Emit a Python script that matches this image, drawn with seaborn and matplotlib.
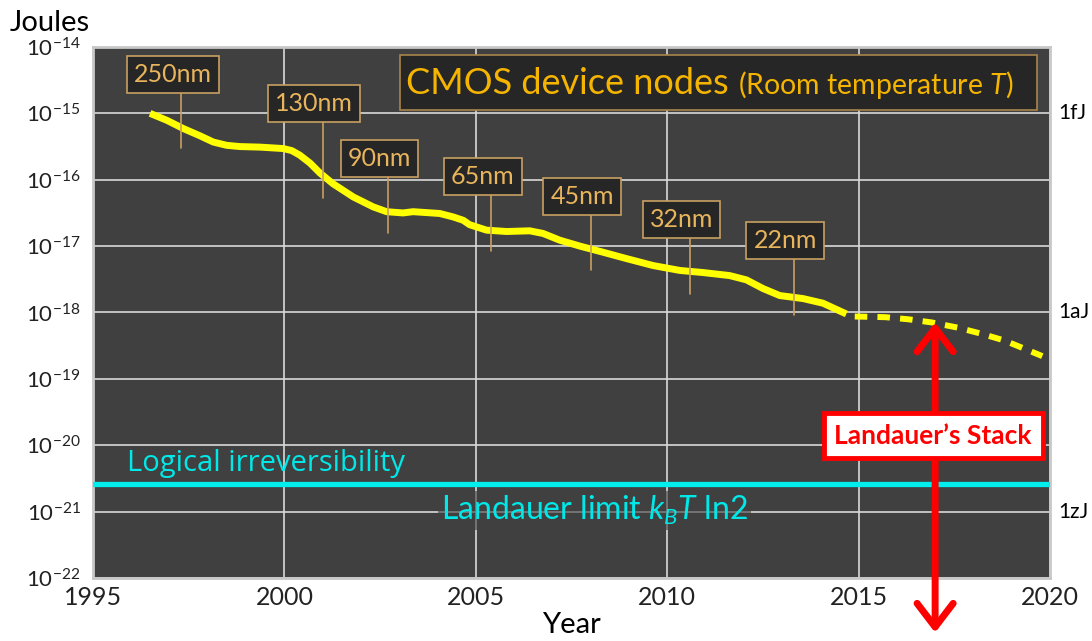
import numpy as np
import matplotlib
matplotlib.use('Agg')
import matplotlib.pyplot as plt
import seaborn as sns
from matplotlib.patches import Rectangle

# switching energy of CMOS nodes
cmos_years = [1996.49, 1996.92, 1997.36, 1997.79, 1998.14, 1998.49, 1998.84, 1999.36, 1999.97,
              2000.19, 2000.40, 2000.67, 2000.93, 2001.27, 2001.80, 2002.32, 2002.67, 2003.10,
              2003.36, 2003.71, 2004.06, 2004.41, 2004.67, 2004.84, 2005.28, 2005.80, 2006.41,
              2006.76, 2007.19, 2007.72, 2008.32, 2008.93, 2009.63, 2010.33, 2010.93, 2011.63,
              2012.07, 2012.50, 2012.94, 2013.55, 2014.07, 2014.68]
cmos_joules = [1.0e-15, 7.9e-16, 5.9e-16, 4.6e-16, 3.7e-16, 3.3e-16, 3.16e-16, 3.1e-16, 2.95e-16,
               2.75e-16, 2.35e-16, 1.78e-16, 1.26e-16, 8.7e-17, 5.5e-17, 3.9e-17, 3.3e-17, 3.16e-17,
               3.3e-17, 3.2e-17, 3.1e-17, 2.75e-17, 2.45e-17, 2.1e-17, 1.74e-17, 1.66e-17, 1.7e-17,
               1.55e-17, 1.23e-17, 1.0e-17, 8.1e-18, 6.5e-18, 5.1e-18, 4.3e-18, 4.0e-18, 3.6e-18,
               3.1e-18, 2.3e-18, 1.8e-18, 1.62e-18, 1.38e-18, 9.5e-19]

# projection beyond 2015 (dashed)
proj_years = [2014.9, 2015.7, 2016.3, 2016.9, 2017.6, 2018.2, 2018.8, 2019.3, 2019.8]
proj_joules = [8.7e-19, 8.5e-19, 7.9e-19, 7.1e-19, 5.9e-19, 4.8e-19, 3.8e-19, 2.9e-19, 2.2e-19]

node_names = ['250nm', '130nm', '90nm', '65nm', '45nm', '32nm', '22nm']
node_years = [1997.3, 2001.0, 2002.7, 2005.4, 2008.0, 2010.6, 2013.3]
node_joules = [6.2e-16, 1.1e-16, 3.3e-17, 1.75e-17, 9.0e-18, 4.0e-18, 1.9e-18]

landauer_limit = 2.6e-21
stack_year = 2017.0
stack_top = 7.1e-19

year_ticks = [1995, 2000, 2005, 2010, 2015, 2020]
joule_ticks = [1e-14, 1e-15, 1e-16, 1e-17, 1e-18, 1e-19, 1e-20, 1e-21, 1e-22]
si_ticks = [1e-15, 1e-18, 1e-21]
si_labels = ['1fJ', '1aJ', '1zJ']

sns.set_style('darkgrid', {'axes.facecolor': '#404040', 'grid.color': '#d9d9d9',
                           'axes.edgecolor': '#c8c8c8'})
plt.rcParams['font.family'] = ['Lato', 'DejaVu Sans']
plt.rcParams['mathtext.fontset'] = 'custom'
plt.rcParams['mathtext.rm'] = 'Lato'
plt.rcParams['mathtext.it'] = 'Lato:italic'
plt.rcParams['mathtext.bf'] = 'Lato:bold'

fig, ax = plt.subplots(figsize=(10.92, 6.41), dpi=100)
fig.subplots_adjust(left=0.0852, right=0.9615, top=0.9267, bottom=0.0983)

# yellow trend, solid then dashed projection
sns.lineplot(x=cmos_years, y=cmos_joules, ax=ax, color='#ffff00', lw=5,
             solid_capstyle='butt', solid_joinstyle='round', zorder=3)
sns.lineplot(x=proj_years, y=proj_joules, ax=ax, color='#ffff00', lw=4.3,
             linestyle=(0, (2.1, 1.7)), dash_capstyle='butt', zorder=3)

ax.set_yscale('log')
ax.set_xlim(1995, 2020)
ax.set_ylim(1e-22, 1e-14)
ax.set_xticks(year_ticks)
ax.set_xticklabels([str(y) for y in year_ticks])
ax.set_yticks(joule_ticks)
ax.set_yticklabels([r'$10^{%d}$' % round(np.log10(v)) for v in joule_ticks])
ax.yaxis.set_minor_locator(matplotlib.ticker.NullLocator())
ax.tick_params(axis='y', labelsize=16, pad=9, length=0, labelcolor='#222222')
ax.tick_params(axis='x', labelsize=18, pad=6, length=0, labelcolor='#222222')
ax.grid(True, color='#d9d9d9', lw=1.2)
for sp in ax.spines.values():
    sp.set_visible(True)
    sp.set_color('#c8c8c8')
    sp.set_linewidth(2)

ax.set_xlabel('Year', fontsize=21, labelpad=2, color='black')
ax.set_ylabel('')
fig.text(0.009, 0.964, 'Joules', fontsize=21, va='center', ha='left', color='black')

# SI labels on the right
for v, lab in zip(si_ticks, si_labels):
    ax.text(1.009, v, lab, transform=ax.get_yaxis_transform(), va='center', ha='left',
            fontsize=15, color='black')

# node labels with leader lines
extra_lift = {'130nm': 0.3}
for name, yr, e in zip(node_names, node_years, node_joules):
    lift = 0.8 + extra_lift.get(name, 0)
    ybox = e * 10 ** lift
    ax.plot([yr, yr], [e * 10 ** -0.32, ybox], color='#c8a060', lw=1.2, zorder=4)
    ax.text(yr - 0.22, ybox, name, ha='center', va='center', fontsize=18, color='#e8b45c',
            zorder=5, bbox=dict(boxstyle='square,pad=0.28', fc='#262626', ec='#c8a060', lw=1.2))

# title box
ax.add_patch(Rectangle((0.321, 0.881), 0.665, 0.104, transform=ax.transAxes,
                       fc='#262626', ec='#a8844c', lw=1.2, zorder=4))
t1 = ax.text(0.327, 0.912, 'CMOS device nodes', transform=ax.transAxes, ha='left',
             va='baseline', fontsize=26, color='#f5b400', zorder=5)
fig.canvas.draw()
bb = t1.get_window_extent().transformed(ax.transAxes.inverted())
ax.text(bb.x1 + 0.010, 0.912, '(Room temperature $T$)', transform=ax.transAxes,
        ha='left', va='baseline', fontsize=20.5, color='#f5b400', zorder=5)

# Landauer limit
ax.axhline(landauer_limit, color='#00eeee', lw=3.8, zorder=3)
ax.text(1995.9, landauer_limit * 1.6, 'Logical irreversibility', ha='left', va='baseline',
        fontsize=21, family=['Open Sans', 'DejaVu Sans'], color='#00e8e8', zorder=4)
ax.text(2008.1, landauer_limit / 2.5, r'Landauer limit $k_BT$ ln2', ha='center', va='center',
        fontsize=23, color='#00e8e8', zorder=4,
        bbox=dict(boxstyle='square,pad=0.1', fc='#404040', ec='none', alpha=0.6))

# Landauer's stack arrow
ax.annotate('', xy=(stack_year, 1.5e-23), xytext=(stack_year, stack_top),
            arrowprops=dict(arrowstyle='<->, head_length=0.85, head_width=0.65',
                            color='#ff0000', lw=5, mutation_scale=20,
                            capstyle='round', joinstyle='round',
                            shrinkA=0, shrinkB=0),
            annotation_clip=False, zorder=6)
ax.text(stack_year - 0.05, 1.4e-20, 'Landauer\u2019s Stack', ha='center', va='center',
        fontsize=19, fontweight='bold', color='#ff0000', zorder=7,
        bbox=dict(boxstyle='square,pad=0.4', fc='white', ec='#ff0000', lw=3.5))

fig.savefig('out.png', dpi=100)
